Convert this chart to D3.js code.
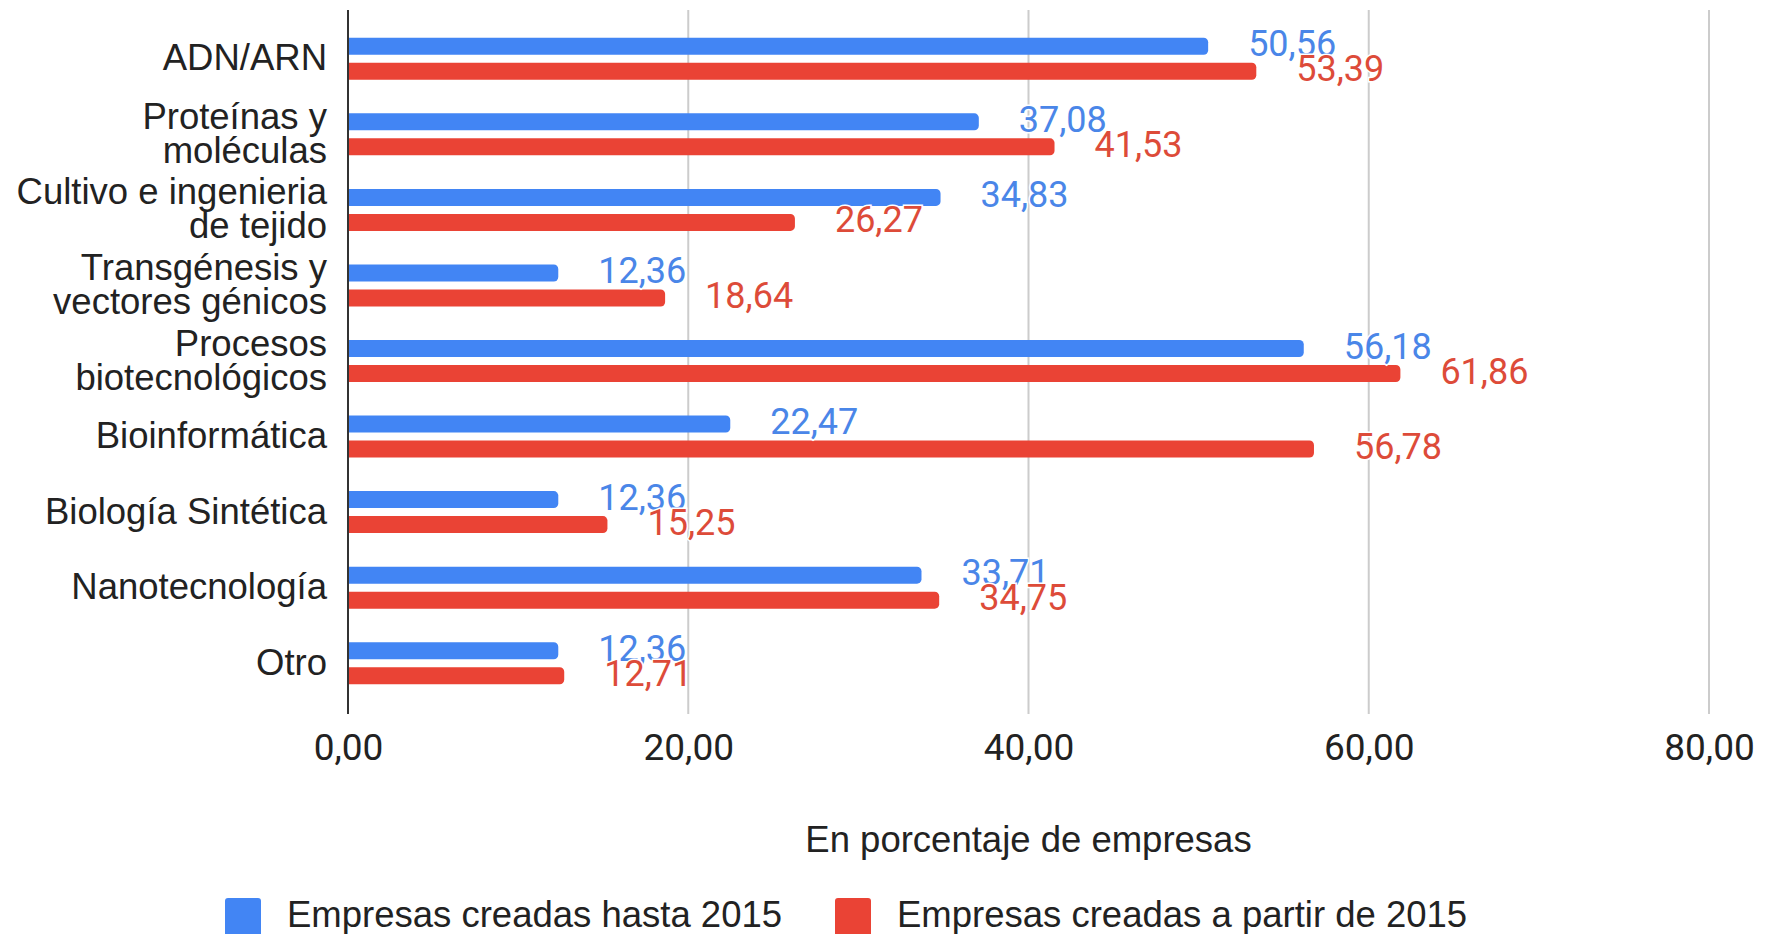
<!DOCTYPE html>
<html>
<head>
<meta charset="utf-8">
<script src="https://cdn.jsdelivr.net/npm/d3@7"></script>
<style>
  body { margin: 0; background: #fff; }
  svg { display: block; }
</style>
</head>
<body>
<svg id="chart"></svg>
<script>
// datos
var categories = ["ADN/ARN", "Proteínas y\nmoléculas", "Cultivo e ingenieria\nde tejido",
  "Transgénesis y\nvectores génicos", "Procesos\nbiotecnológicos", "Bioinformática",
  "Biología Sintética", "Nanotecnología", "Otro"];
var hasta2015 = [50.56, 37.08, 34.83, 12.36, 56.18, 22.47, 12.36, 33.71, 12.36];
var desde2015 = [53.39, 41.53, 26.27, 18.64, 61.86, 56.78, 15.25, 34.75, 12.71];
var ticks = [0, 20, 40, 60, 80];
var seriesNames = ["Empresas creadas hasta 2015", "Empresas creadas a partir de 2015"];
var colors = ["#4285f4", "#ea4335"];
var labelColors = ["#4a86e8", "#dd4b39"];

var width = 1772, height = 934;
var fmt = function(v) { return d3.format(".2f")(v).replace(".", ","); };
var sans = "'Liberation Sans', Arial, sans-serif";

var svg = d3.select("#chart").attr("width", width).attr("height", height);

var x = d3.scaleLinear().domain([0, 80]).range([348, 1709]);
var y = d3.scaleBand().domain(d3.range(categories.length)).range([21, 701]);
var gridTop = 10, gridBottom = 714;
var barH = 17, off = 12.5;

// lineas de la cuadricula
svg.append("g").selectAll("line").data(ticks.slice(1)).enter().append("line")
  .attr("x1", x).attr("x2", x)
  .attr("y1", gridTop).attr("y2", gridBottom)
  .attr("stroke", "#cccccc").attr("stroke-width", 2);

// barra con esquinas redondeadas solo a la derecha
function barPath(x0, x1, yc, h) {
  var r = Math.min(4.5, (x1 - x0) / 2), t = yc - h / 2, b = yc + h / 2;
  var p = d3.path();
  p.moveTo(x0, t);
  p.lineTo(x1 - r, t);
  p.arcTo(x1, t, x1, t + r, r);
  p.lineTo(x1, b - r);
  p.arcTo(x1, b, x1 - r, b, r);
  p.lineTo(x0, b);
  p.closePath();
  return p.toString();
}

var series = [hasta2015, desde2015];
var bars = svg.append("g");
series.forEach(function(vals, s) {
  bars.append("g").selectAll("path").data(vals).enter().append("path")
    .attr("d", function(d, i) {
      var yc = y(i) + y.bandwidth() / 2 + (s === 0 ? -off : off);
      return barPath(x(0), x(d), yc, barH);
    })
    .attr("fill", colors[s]);
});

// eje vertical
svg.append("line")
  .attr("x1", x(0)).attr("x2", x(0))
  .attr("y1", gridTop).attr("y2", gridBottom)
  .attr("stroke", "#333").attr("stroke-width", 2);

// etiquetas de valores
var labels = svg.append("g")
  .style("font-family", "Roboto, sans-serif").style("font-size", "36px");
series.forEach(function(vals, s) {
  labels.append("g").selectAll("text").data(vals).enter().append("text")
    .attr("x", function(d) { return x(d) + 40; })
    .attr("y", function(d, i) { return y(i) + y.bandwidth() / 2 + (s === 0 ? -off : off) - 2; })
    .attr("dominant-baseline", "central")
    .attr("fill", labelColors[s])
    .attr("stroke", "#fff").attr("stroke-width", 3)
    .attr("paint-order", "stroke")
    .text(fmt);
});

// categorias
var cats = svg.append("g")
  .style("font-family", sans).style("font-size", "36.5px")
  .attr("fill", "#222");
cats.selectAll("text").data(categories).enter().append("text")
  .attr("text-anchor", "end")
  .attr("transform", function(d, i) { return "translate(327," + (y(i) + y.bandwidth() / 2) + ")"; })
  .each(function(d) {
    var lines = d.split("\n"), n = lines.length;
    d3.select(this).selectAll("tspan").data(lines).enter().append("tspan")
      .attr("x", 0)
      .attr("y", function(l, j) { return (j - (n - 1) / 2) * 34 - 1; })
      .attr("dominant-baseline", "central")
      .text(function(l) { return l; });
  });

// eje x
var xAxis = d3.axisBottom(x).tickValues(ticks).tickSize(0).tickFormat(fmt);
var gx = svg.append("g").attr("transform", "translate(0," + 735 + ")").call(xAxis);
gx.select(".domain").remove();
gx.selectAll("text")
  .attr("dy", null).attr("y", 12)
  .attr("dominant-baseline", "central")
  .style("font-family", "Roboto, sans-serif").style("font-size", "37px")
  .attr("fill", "#222");

svg.append("text")
  .attr("x", (x(0) + x(80)) / 2).attr("y", 839)
  .attr("text-anchor", "middle").attr("dominant-baseline", "central")
  .style("font-family", sans).style("font-size", "36.5px")
  .attr("fill", "#222")
  .text("En porcentaje de empresas");

// leyenda
var legendX = [225, 835];
var lg = svg.append("g").selectAll("g").data(seriesNames).enter().append("g")
  .attr("transform", function(d, i) { return "translate(" + legendX[i] + ",898)"; });
lg.append("rect").attr("width", 36).attr("height", 38).attr("rx", 3)
  .attr("fill", function(d, i) { return colors[i]; });
lg.append("text")
  .attr("x", 62).attr("y", 16)
  .attr("dominant-baseline", "central")
  .style("font-family", sans).style("font-size", "36.5px")
  .attr("fill", "#222")
  .text(function(d) { return d; });
</script>
</body>
</html>
